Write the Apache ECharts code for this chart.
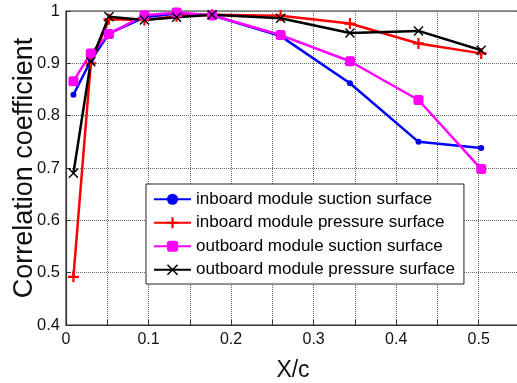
<!DOCTYPE html>
<html><head><meta charset="utf-8">
<script src="https://cdn.jsdelivr.net/npm/echarts@6/dist/echarts.min.js"></script>
<style>html,body{margin:0;padding:0;background:#fff}#c{width:517px;height:383px}</style>
</head><body><div id="c"></div>
<script>
const xVals = [0.009, 0.030, 0.052, 0.095, 0.134, 0.177, 0.260, 0.344, 0.427, 0.503];
const inboardSuction   = [0.840, 0.905, 0.957, 0.988, 0.995, 0.992, 0.952, 0.862, 0.750, 0.738];
const inboardPressure  = [0.492, 0.900, 0.984, 0.983, 0.990, 0.993, 0.991, 0.976, 0.938, 0.919];
const outboardSuction  = [0.866, 0.919, 0.956, 0.992, 0.997, 0.992, 0.954, 0.904, 0.830, 0.698];
const outboardPressure = [0.690, 0.903, 0.989, 0.983, 0.988, 0.993, 0.986, 0.958, 0.962, 0.925];
const seriesNames = ['inboard module suction surface','inboard module pressure surface','outboard module suction surface','outboard module pressure surface'];
const yTicks = [0.4, 0.5, 0.6, 0.7, 0.8, 0.9, 1];
const xTicks = [0, 0.1, 0.2, 0.3, 0.4, 0.5];

const plusPath = 'path://M4,0h2v4h4v2h-4v4h-2v-4h-4v-2h4z';
const starPath = 'path://M1,0L5,4L9,0L10,1L6,5L10,9L9,10L5,6L1,10L0,9L4,5L0,1Z';

function mk(name, vals, color, symbol, size) {
  return {
    name, type: 'line', data: xVals.map((x, i) => [x, vals[i]]),
    symbol, symbolSize: size,
    lineStyle: { color, width: 2.5 },
    itemStyle: { color },
    z: 3
  };
}
const chart = echarts.init(document.getElementById('c'));
chart.setOption({
  animation: false,
  textStyle: { fontFamily: 'Liberation Sans, Arial, sans-serif' },
  grid: { left: 66, top: 11, right: -3, bottom: 58, show: true, borderColor: '#333', borderWidth: 1.2,
          containLabel: false, outerBoundsMode: 'none' },
  legend: {
    left: 146, top: 184, orient: 'vertical',
    itemWidth: 37, itemHeight: 14, itemGap: 5,
    backgroundColor: '#fff', borderColor: '#222', borderWidth: 1,
    padding: [6, 9, 5, 7],
    textStyle: { fontSize: 17, lineHeight: 18.5, color: '#000', fontFamily: 'Liberation Sans, Arial, sans-serif' },
    data: seriesNames
  },
  xAxis: {
    type: 'value', min: 0, max: 0.55, interval: 0.05,
    name: 'X/c', nameLocation: 'middle', nameGap: 34, nameMoveOverlap: false,
    nameTextStyle: { fontSize: 23, color: '#111' },
    axisLine: { show: true, lineStyle: { color: '#333', width: 1.2 } },
    axisTick: { show: true, inside: true, length: 5, lineStyle: { color: '#333' } },
    axisLabel: { fontSize: 16, color: '#111', margin: 7,
      formatter: v => { const r = Math.round(v * 100) / 100; return xTicks.some(t => Math.abs(t - r) < 1e-9) ? String(r) : ''; } },
    splitLine: { show: true, lineStyle: { type: 'dotted', color: '#666', width: 1 } }
  },
  yAxis: {
    type: 'value', min: 0.4, max: 1, interval: 0.1,
    name: 'Correlation coefficient', nameLocation: 'middle', nameGap: 28, nameMoveOverlap: false,
    nameTextStyle: { fontSize: 27, color: '#111' },
    axisLine: { show: true, lineStyle: { color: '#333', width: 1.2 } },
    axisTick: { show: true, inside: true, length: 5, lineStyle: { color: '#333' } },
    axisLabel: { fontSize: 16.5, color: '#111', margin: 6,
      formatter: v => { const r = Math.round(v * 10) / 10; return yTicks.some(t => Math.abs(t - r) < 1e-9) ? String(r) : ''; } },
    splitLine: { show: true, lineStyle: { type: 'dotted', color: '#666', width: 1 } }
  },
  series: [
    mk(seriesNames[0], inboardSuction, '#0000ff', 'circle', 6),
    mk(seriesNames[1], inboardPressure, '#ff0000', plusPath, 11),
    mk(seriesNames[2], outboardSuction, '#ff00ff', 'roundRect', 10),
    mk(seriesNames[3], outboardPressure, '#000000', starPath, 10)
  ]
});
</script></body></html>
